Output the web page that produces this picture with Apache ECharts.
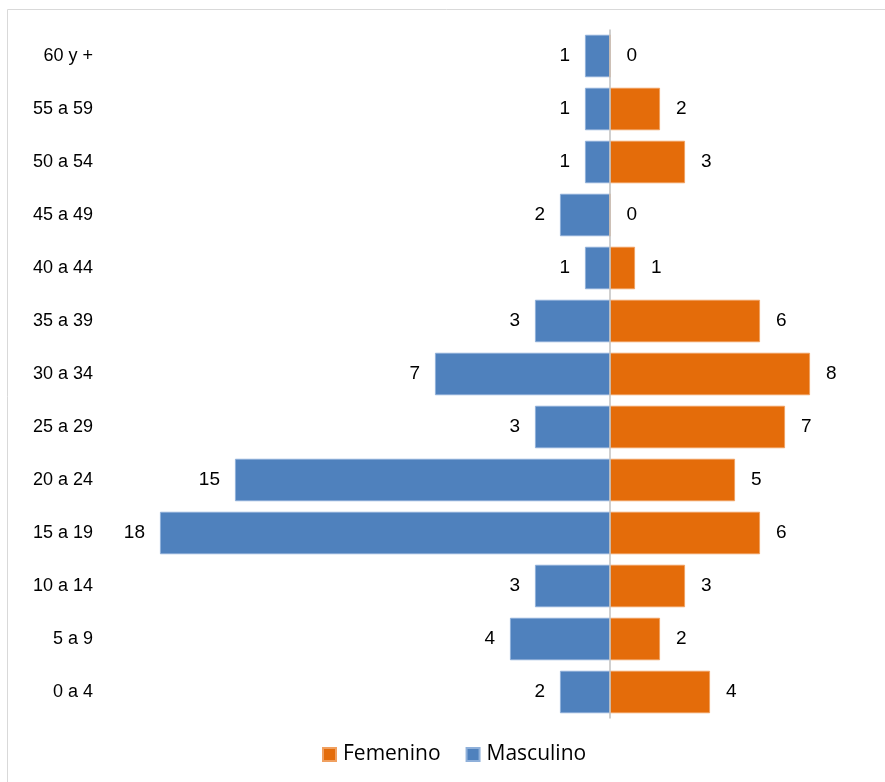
<!DOCTYPE html>
<html>
<head>
<meta charset="utf-8">
<script src="https://cdn.jsdelivr.net/npm/echarts@6/dist/echarts.min.js"></script>
<style>
html,body{margin:0;padding:0;background:#fff;}
#main{width:885px;height:782px;}
</style>
</head>
<body>
<div id="main"></div>
<script>
const categories = ['0 a 4','5 a 9','10 a 14','15 a 19','20 a 24','25 a 29','30 a 34','35 a 39','40 a 44','45 a 49','50 a 54','55 a 59','60 y +'];
const masculino = [2,4,3,18,15,3,7,3,1,2,1,1,1];
const femenino = [4,2,3,6,5,7,8,6,1,0,3,2,0];

const narrow = "'Liberation Sans Narrow', 'Arial Narrow', 'Liberation Sans', sans-serif";
const chart = echarts.init(document.getElementById('main'));
chart.setOption({
  animation: false,
  graphic: [{
    type: 'rect', silent: true,
    shape: {x: 7.5, y: 9.5, width: 1000, height: 1000},
    style: {fill: 'none', stroke: '#D9D9D9', lineWidth: 1}
  }],
  legend: {
    data: ['Femenino', 'Masculino'],
    bottom: 12,
    left: 317,
    itemWidth: 13, itemHeight: 13,
    itemGap: 25,
    icon: 'rect',
    textStyle: {fontFamily: "'Open Sans', 'Noto Sans', sans-serif", fontSize: 21, color: '#000', padding: [0,0,0,2]}
  },
  grid: {left: 160, right: 75, top: 29.5, bottom: 63.5, containLabel: false},
  xAxis: {
    type: 'value', min: -18, max: 8,
    show: false
  },
  yAxis: {
    type: 'category', data: categories,
    axisLine: {show: false}, axisTick: {show: false},
    axisLabel: {margin: 67, fontFamily: narrow, fontSize: 18, color: '#000'}
  },
  series: [
    {
      name: 'Masculino', type: 'bar',
      barCategoryGap: '20%', barGap: '-100%',
      data: masculino.map(v => -v),
      itemStyle: {color: '#4F81BD', borderColor: '#8FB0DA', borderWidth: 0.8},
      label: {show: true, position: 'left', distance: 15, fontFamily: narrow, fontSize: 19, color: '#000',
        formatter: p => String(Math.abs(p.value))},
      markLine: {
        silent: true, symbol: 'none', label: {show: false},
        lineStyle: {color: '#C0C0C0', type: 'solid', width: 1.5},
        data: [{xAxis: 0}]
      }
    },
    {
      name: 'Femenino', type: 'bar',
      barCategoryGap: '20%', barGap: '-100%',
      data: femenino,
      itemStyle: {color: '#E46C0A', borderColor: '#F0A060', borderWidth: 0.8},
      label: {show: true, position: 'right', distance: 16, fontFamily: narrow, fontSize: 19, color: '#000'}
    }
  ]
});
</script>
</body>
</html>
